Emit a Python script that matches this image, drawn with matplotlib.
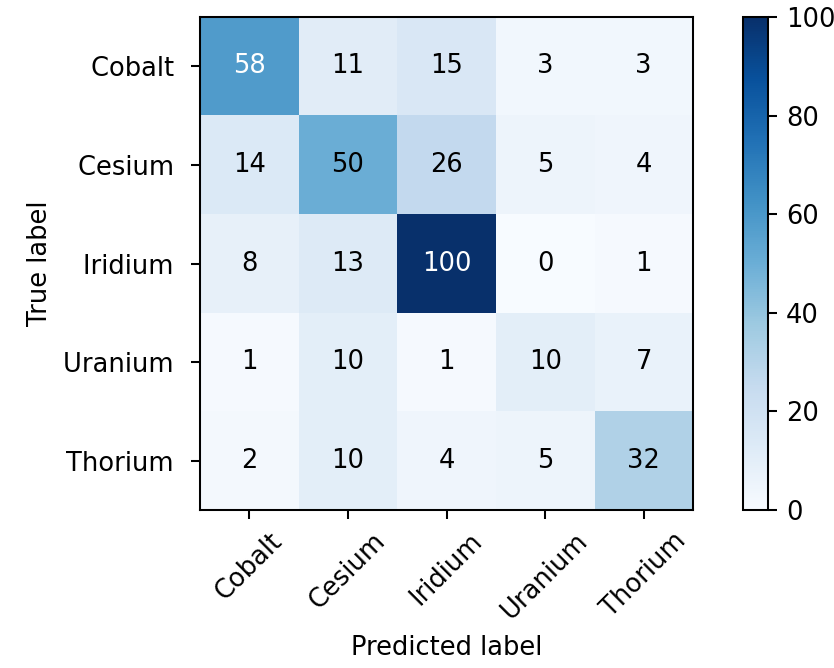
import numpy as np
import matplotlib
matplotlib.use("Agg")
import matplotlib.pyplot as plt

classes = ["Cobalt", "Cesium", "Iridium", "Uranium", "Thorium"]
cm = np.array([
    [58, 11, 15, 3, 3],
    [14, 50, 26, 5, 4],
    [8, 13, 100, 0, 1],
    [1, 10, 1, 10, 7],
    [2, 10, 4, 5, 32],
])
cbar_ticks = [0, 20, 40, 60, 80, 100]

plt.rcParams["font.size"] = 10

dpi = 185
fig = plt.figure(figsize=(835 / dpi, 668 / dpi), dpi=dpi)
ax = fig.add_axes([0.2395, 0.2365, 0.5905, 0.738])
cax = fig.add_axes([0.890, 0.2365, 0.030, 0.738])

im = ax.imshow(cm, interpolation="nearest", cmap=plt.cm.Blues, aspect="auto")
cb = fig.colorbar(im, cax=cax)
cb.set_ticks(cbar_ticks)

ticks = np.arange(len(classes))
ax.set_xticks(ticks)
ax.set_xticklabels(classes, rotation=45)
ax.set_yticks(ticks)
ax.set_yticklabels([c + " " for c in classes])

thresh = cm.max() / 2.0
for i in range(cm.shape[0]):
    for j in range(cm.shape[1]):
        ax.text(j, i, format(cm[i, j], "d"), ha="center", va="center",
                color="white" if cm[i, j] > thresh else "black")

ax.set_ylabel("True label")
ax.set_xlabel("Predicted label")

fig.savefig("out.png", dpi=dpi)
